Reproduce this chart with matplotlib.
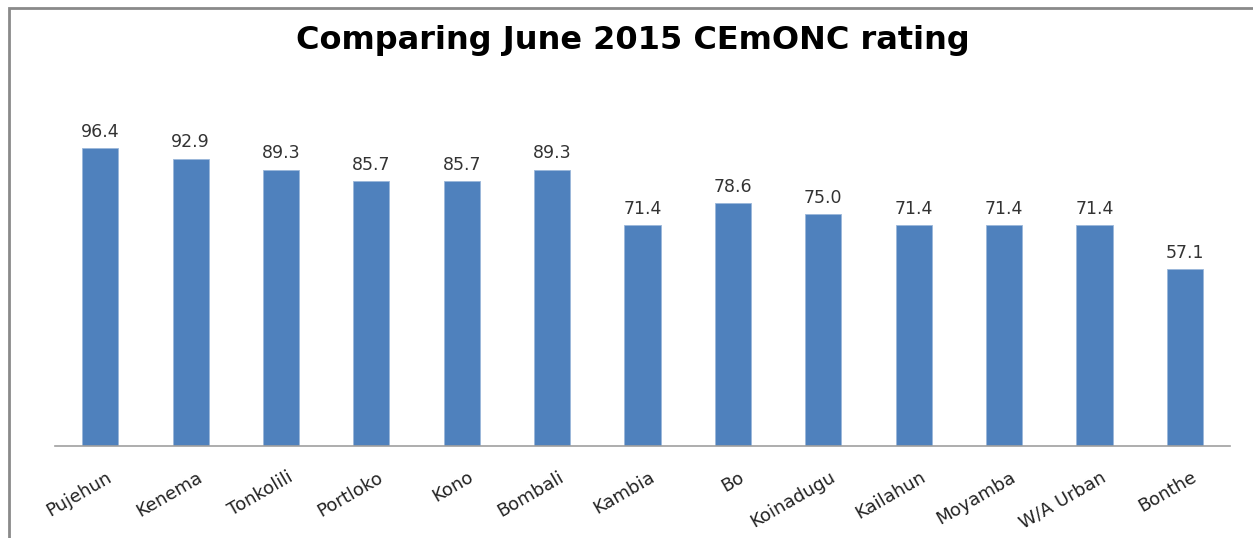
import matplotlib
matplotlib.use("Agg")
import matplotlib.pyplot as plt
from matplotlib.patches import Rectangle
from matplotlib.transforms import ScaledTranslation

districts = ["Pujehun", "Kenema", "Tonkolili", "Portloko", "Kono", "Bombali",
             "Kambia", "Bo", "Koinadugu", "Kailahun", "Moyamba", "W/A Urban", "Bonthe"]
ratings = [96.4, 92.9, 89.3, 85.7, 85.7, 89.3, 71.4, 78.6, 75.0, 71.4, 71.4, 71.4, 57.1]
title = "Comparing June 2015 CEmONC rating"

W, H = 1253, 538
fig = plt.figure(figsize=(W / 100, H / 100), dpi=100)
fig.patch.set_facecolor("white")

# outer chart frame (partially cropped in the reference)
frame = Rectangle((9 / W, -0.05), 1.2, (H - 8) / H + 0.05, transform=fig.transFigure,
                  fill=False, edgecolor="#8a8a8a", linewidth=2.0, clip_on=False)
fig.patches.append(frame)

left, right = 55 / W, 1230 / W
bottom, top = (H - 446) / H, (H - 75) / H
ax = fig.add_axes([left, bottom, right - left, top - bottom])

x = range(len(districts))
bars = ax.bar(x, ratings, width=0.4, color="#4F81BD", edgecolor="#9BB7DA", linewidth=0.6)
ax.set_xlim(-0.5, len(districts) - 0.5)
ax.set_ylim(0, 120)

for xi, v in zip(x, ratings):
    ax.text(xi, v + 2.4, f"{v:.1f}", ha="center", va="bottom", fontsize=12.5,
            color="#333333")

ax.set_xticks(list(x))
ax.set_xticklabels(districts, rotation=30, ha="right", rotation_mode="anchor",
                   fontsize=13, color="#222222")
ax.tick_params(axis="x", length=0, pad=16)
offset = ScaledTranslation(6 / 100, 0, fig.dpi_scale_trans)
for lbl in ax.get_xticklabels():
    lbl.set_transform(lbl.get_transform() + offset)
ax.set_yticks([])
for s in ["top", "right", "left"]:
    ax.spines[s].set_visible(False)
ax.spines["bottom"].set_color("#A0A0A0")
ax.spines["bottom"].set_linewidth(1.2)

fig.text(633 / W, (H - 40) / H, title, ha="center", va="center",
         fontsize=23, fontweight="bold", color="black")

fig.savefig("out.png", dpi=100, facecolor="white")
